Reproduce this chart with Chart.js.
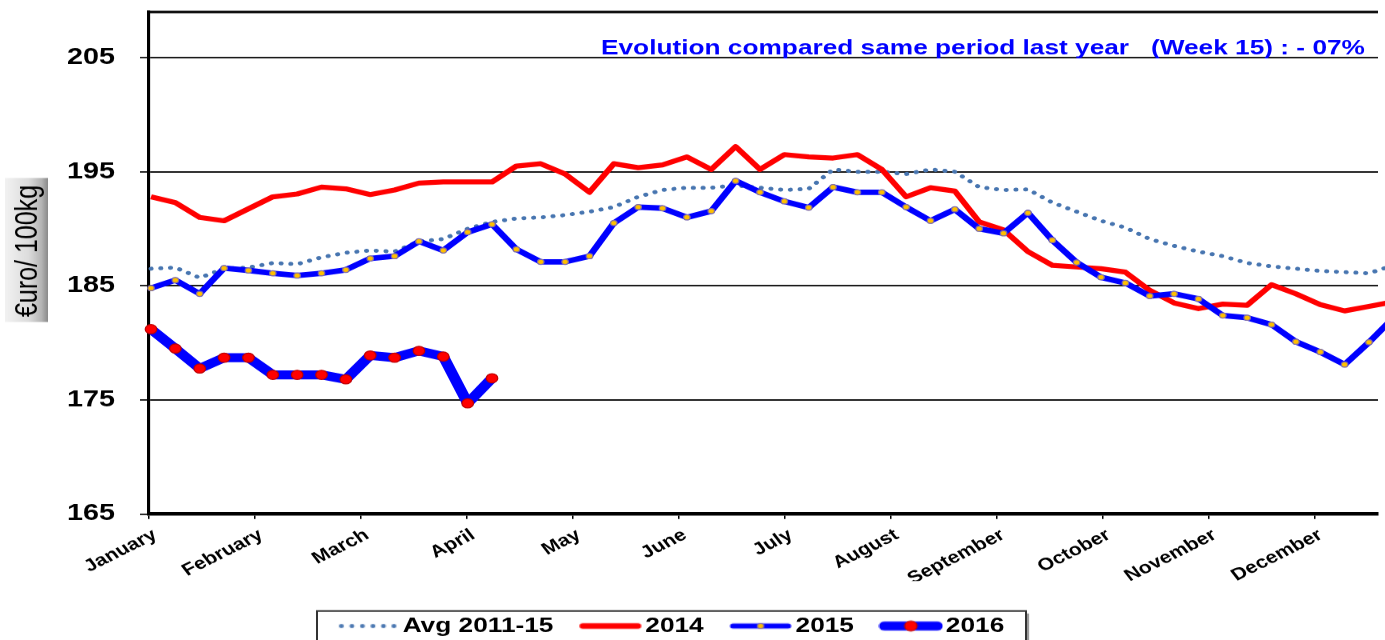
<!DOCTYPE html>
<html>
<head>
<meta charset="utf-8">
<script src="https://cdn.jsdelivr.net/npm/chart.js@4.4.1/dist/chart.umd.min.js"></script>
<style>
  html, body { margin: 0; padding: 0; background: #ffffff; overflow: hidden; }
  #wrap { position: absolute; left: 0; top: 0; width: 1108px; height: 640px;
          transform: scaleX(1.25); transform-origin: 0 0; }
</style>
</head>
<body>
<div id="wrap"><canvas id="c" width="1108" height="640"></canvas></div>
<script>
// ---------------- data ----------------
const WEEKS = [1,2,3,4,5,6,7,8,9,10,11,12,13,14,15,16,17,18,19,20,21,22,23,24,25,26,
               27,28,29,30,31,32,33,34,35,36,37,38,39,40,41,42,43,44,45,46,47,48,49,50,51,52];
const MONTHS = ['January','February','March','April','May','June','July',
                'August','September','October','November','December'];
const Y_TICKS = [165, 175, 185, 195, 205];
const SERIES_LABELS = ['Avg 2011-15', '2014', '2015', '2016'];

const AVG_2011_15 = [186.5,186.6,185.7,186.5,186.6,187.0,186.9,187.5,187.9,188.1,188.0,188.9,189.1,
                     190.0,190.6,190.9,191.0,191.2,191.5,191.9,192.8,193.4,193.6,193.6,193.8,193.6,
                     193.4,193.5,195.2,195.0,195.0,194.8,195.2,195.0,193.65,193.4,193.45,192.3,191.5,
                     190.7,190.1,189.1,188.5,188.0,187.6,187.0,186.7,186.5,186.3,186.2,186.1,186.8];
const Y2014 = [192.8,192.3,191.0,190.7,191.75,192.8,193.05,193.65,193.5,193.0,193.4,194.0,194.1,
               194.1,194.1,195.5,195.7,194.8,193.2,195.7,195.35,195.6,196.3,195.2,197.2,195.2,
               196.5,196.3,196.2,196.5,195.2,192.8,193.6,193.3,190.6,189.9,188.0,186.8,186.65,
               186.5,186.2,184.6,183.5,183.0,183.4,183.3,185.1,184.3,183.35,182.8,183.2,183.6];
const Y2015 = [184.8,185.5,184.3,186.55,186.35,186.1,185.9,186.1,186.4,187.4,187.6,188.9,188.1,
               189.7,190.4,188.2,187.1,187.1,187.6,190.5,191.9,191.8,191.0,191.55,194.2,193.2,
               192.4,191.85,193.65,193.2,193.2,191.9,190.7,191.7,190.0,189.6,191.4,189.0,187.05,
               185.75,185.25,184.1,184.3,183.85,182.4,182.2,181.6,180.1,179.2,178.1,180.05,182.2];
const Y2016 = [181.2,179.5,177.75,178.7,178.7,177.2,177.2,177.2,176.8,178.9,178.7,179.3,178.8,174.7,176.9];

const TITLE_TEXT = 'Evolution compared same period last year   (Week 15) : - 07%';
const Y_TITLE = '\u20acuro/ 100kg';

// ---------------- layout (logical units, canvas is stretched 1.25x horizontally) ----------------
const X_MIN = 0.918, X_MAX = 51.37, WEEKS_PER_MONTH = 52.19 / 12;
const FONT = "'Liberation Sans', Arial, Helvetica, sans-serif";
const LEGEND_TEXT_Y = 626, LEGEND_CENTER_X = 540, LEGEND_FS = 21, LEGEND_BOX_W = 35, LEGEND_PAD = 28;
const PLOT_BOTTOM = 514;

Chart.defaults.font.family = FONT;
Chart.defaults.color = '#000';

function sample(kind) {
  const c = document.createElement('canvas');
  c.width = 52; c.height = 16;
  const g = c.getContext('2d');
  const cy = 8;
  g.lineCap = 'round';
  if (kind === 0) {
    g.fillStyle = '#4775B0';
    for (let k = 0; k < 6; k++) { g.beginPath(); g.arc(5 + k * 8.4, cy, 2, 0, Math.PI * 2); g.fill(); }
  } else if (kind === 1) {
    g.strokeStyle = '#FF0000'; g.lineWidth = 5.5;
    g.beginPath(); g.moveTo(4, cy); g.lineTo(48, cy); g.stroke();
  } else if (kind === 2) {
    g.strokeStyle = '#0000FF'; g.lineWidth = 5;
    g.beginPath(); g.moveTo(4, cy); g.lineTo(48, cy); g.stroke();
    g.fillStyle = '#FFC000'; g.strokeStyle = '#7E6CA8'; g.lineWidth = 1;
    g.beginPath(); g.arc(26, cy, 2.6, 0, Math.PI * 2); g.fill(); g.stroke();
  } else {
    g.strokeStyle = '#0000FF'; g.lineWidth = 9;
    g.beginPath(); g.moveTo(5, cy); g.lineTo(47, cy); g.stroke();
    g.fillStyle = '#FF0000'; g.strokeStyle = '#C00000'; g.lineWidth = 1;
    g.beginPath(); g.arc(26, cy, 5, 0, Math.PI * 2); g.fill(); g.stroke();
  }
  return c;
}
const SAMPLES = [sample(0), sample(1), sample(2), sample(3)];

const decor = {
  id: 'decor',
  afterLayout(chart) {
    const L = chart.legend;
    const p = L.options.labels.padding;
    const dy = LEGEND_TEXT_Y - (L.top + p + LEGEND_FS / 2);
    L.top += dy; L.bottom += dy;
    const dx = LEGEND_CENTER_X - (L.left + L.right) / 2;
    L.left += dx; L.right += dx;
  },
  beforeDraw(chart) {
    const ctx = chart.ctx;
    // y-axis title box
    ctx.save();
    const gr = ctx.createLinearGradient(4, 0, 38.4, 0);
    gr.addColorStop(0, '#f2f2f2');
    gr.addColorStop(0.55, '#dcdcdc');
    gr.addColorStop(0.85, '#b4b4b4');
    gr.addColorStop(1, '#8a8a8a');
    ctx.fillStyle = gr;
    ctx.fillRect(4, 178, 34.4, 144);
    ctx.translate(22.4, 251);
    ctx.rotate(-Math.PI / 2);
    ctx.font = '25px ' + FONT;
    ctx.fillStyle = '#000';
    ctx.textAlign = 'center';
    ctx.textBaseline = 'middle';
    ctx.fillText(Y_TITLE, 0, 0);
    ctx.restore();
    // legend box
    const bl = 253.6, br = 820.8;
    ctx.save();
    ctx.fillStyle = '#9a9a9a';
    ctx.fillRect(bl + 2.5, 613.5, br - bl, 60);
    ctx.fillStyle = '#ffffff';
    ctx.fillRect(bl, 611, br - bl, 60);
    ctx.strokeStyle = '#333';
    ctx.lineWidth = 1.6;
    ctx.strokeRect(bl, 611, br - bl, 60);
    ctx.restore();
  },
  afterDraw(chart) {
    const ctx = chart.ctx, a = chart.chartArea;
    ctx.save();
    ctx.strokeStyle = '#000';
    ctx.lineWidth = 2.5;
    ctx.beginPath(); ctx.moveTo(a.left - 1.2, a.top); ctx.lineTo(a.right, a.top); ctx.stroke();
    ctx.font = 'bold 21px ' + FONT;
    ctx.fillStyle = '#0000FF';
    ctx.textAlign = 'left';
    ctx.textBaseline = 'alphabetic';
    ctx.fillText(TITLE_TEXT, 480.8, 54);
    ctx.restore();
  }
};

new Chart(document.getElementById('c'), {
  type: 'line',
  data: {
    labels: WEEKS,
    datasets: [
      { label: SERIES_LABELS[0], data: AVG_2011_15, borderColor: '#4775B0', borderWidth: 4,
        borderDash: [0.1, 7.7], borderCapStyle: 'round', pointRadius: 0, order: 4 },
      { label: SERIES_LABELS[1], data: Y2014, borderColor: '#FF0000', borderWidth: 5,
        pointRadius: 0, order: 3 },
      { label: SERIES_LABELS[2], data: Y2015, borderColor: '#0000FF', borderWidth: 5.5,
        pointRadius: 2.6, pointBackgroundColor: '#FFC000', pointBorderColor: '#7E6CA8',
        pointBorderWidth: 1, order: 2 },
      { label: SERIES_LABELS[3], data: Y2016, borderColor: '#0000FF', borderWidth: 9,
        pointRadius: 4.6, pointBackgroundColor: '#FF0000', pointBorderColor: '#C00000',
        pointBorderWidth: 1, order: 1 }
    ].map(d => Object.assign({ tension: 0, clip: false, borderJoinStyle: 'round', fill: false,
                               pointHoverRadius: 0 }, d))
  },
  options: {
    responsive: false,
    devicePixelRatio: 1.25,
    animation: false,
    events: [],
    layout: { padding: { top: 12, left: 0, right: 0, bottom: 0 } },
    scales: {
      x: {
        type: 'linear', bounds: 'data', min: X_MIN, max: X_MAX,
        afterBuildTicks: s => { s.ticks = MONTHS.map((m, k) => ({ value: X_MIN + k * WEEKS_PER_MONTH })); },
        afterFit: s => {
          const legendH = LEGEND_FS + LEGEND_PAD + 10;
          s.height = 640 - PLOT_BOTTOM - legendH; s.paddingLeft = 0; s.paddingRight = 0;
        },
        ticks: { autoSkip: false, maxRotation: 32, minRotation: 32, padding: 6, labelOffset: 5,
                 font: { size: 17, weight: 'bold' }, color: '#000',
                 callback: (v, i) => MONTHS[i] },
        grid: { drawOnChartArea: false, drawTicks: true, tickLength: 5, color: '#000', lineWidth: 1.2 },
        border: { display: true, color: '#000', width: 3.5 }
      },
      y: {
        bounds: 'data', min: 165, max: 209,
        afterBuildTicks: s => { s.ticks = Y_TICKS.map(v => ({ value: v })); },
        afterFit: s => { s.width = 119.2; s.paddingTop = 0; s.paddingBottom = 0; },
        ticks: { padding: 20, font: { size: 23, weight: 'bold' }, color: '#000' },
        grid: { color: '#1a1a1a', lineWidth: 1.5, tickLength: 7.2, drawTicks: true },
        border: { display: true, color: '#000', width: 2.5 }
      }
    },
    plugins: {
      tooltip: { enabled: false },
      title: { display: false },
      legend: {
        position: 'bottom', align: 'center',
        labels: {
          usePointStyle: true, pointStyleWidth: LEGEND_BOX_W, padding: LEGEND_PAD,
          font: { size: LEGEND_FS, weight: 'bold' }, color: '#000',
          generateLabels: chart => chart.data.datasets.map((ds, i) => ({
            text: ds.label, pointStyle: SAMPLES[i], fillStyle: 'rgba(0,0,0,0)',
            strokeStyle: 'rgba(0,0,0,0)', lineWidth: 0, hidden: false, datasetIndex: i, fontColor: '#000'
          }))
        }
      }
    }
  },
  plugins: [decor]
});
</script>
</body>
</html>
